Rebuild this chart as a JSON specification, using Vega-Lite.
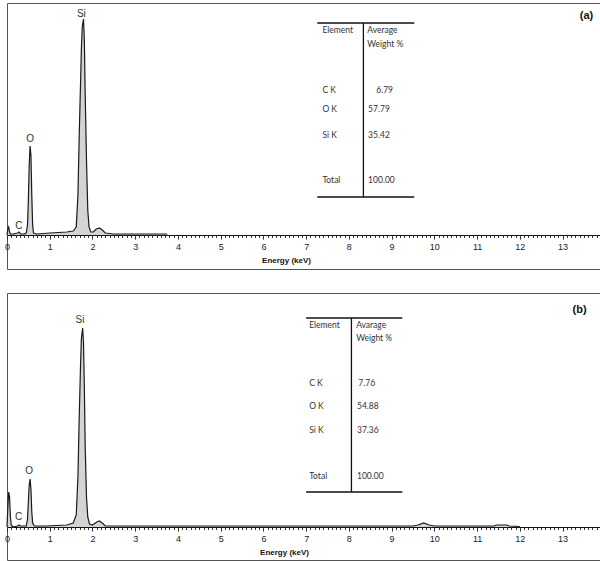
{
  "$schema": "https://vega.github.io/schema/vega-lite/v6.json",
  "padding": {"left": 3, "top": 2, "right": 0, "bottom": 0},
  "background": "white",
  "config": {
    "view": {"stroke": "#555", "strokeWidth": 1},
    "text": {"font": "Lato", "fontSize": 8.5, "color": "#333"}
  },
  "datasets": {
    "specA": [
      {"e": 0.0, "c": 0}, {"e": 0.02, "c": 6}, {"e": 0.04, "c": 8}, {"e": 0.06, "c": 3}, {"e": 0.08, "c": 1},
      {"e": 0.15, "c": 1}, {"e": 0.25, "c": 2}, {"e": 0.28, "c": 3}, {"e": 0.32, "c": 1}, {"e": 0.4, "c": 1},
      {"e": 0.45, "c": 2}, {"e": 0.48, "c": 10}, {"e": 0.5, "c": 35}, {"e": 0.52, "c": 70}, {"e": 0.54, "c": 89},
      {"e": 0.56, "c": 80}, {"e": 0.58, "c": 40}, {"e": 0.6, "c": 10}, {"e": 0.62, "c": 2}, {"e": 0.7, "c": 1},
      {"e": 1.0, "c": 2}, {"e": 1.4, "c": 3}, {"e": 1.55, "c": 4}, {"e": 1.62, "c": 8}, {"e": 1.66, "c": 40},
      {"e": 1.69, "c": 100}, {"e": 1.72, "c": 150}, {"e": 1.74, "c": 185}, {"e": 1.76, "c": 208}, {"e": 1.79, "c": 216},
      {"e": 1.81, "c": 195}, {"e": 1.83, "c": 140}, {"e": 1.86, "c": 75}, {"e": 1.89, "c": 25}, {"e": 1.92, "c": 8},
      {"e": 1.96, "c": 3}, {"e": 2.02, "c": 3}, {"e": 2.09, "c": 6}, {"e": 2.16, "c": 7}, {"e": 2.23, "c": 5},
      {"e": 2.3, "c": 2}, {"e": 2.5, "c": 1}, {"e": 3.0, "c": 1}, {"e": 3.75, "c": 1}
    ],
    "specB": [
      {"e": 0.0, "c": 0}, {"e": 0.02, "c": 20}, {"e": 0.04, "c": 35}, {"e": 0.06, "c": 30}, {"e": 0.08, "c": 10},
      {"e": 0.1, "c": 2}, {"e": 0.14, "c": 0}, {"e": 0.25, "c": 1}, {"e": 0.28, "c": 2}, {"e": 0.32, "c": 1},
      {"e": 0.45, "c": 1}, {"e": 0.48, "c": 8}, {"e": 0.5, "c": 25}, {"e": 0.52, "c": 42}, {"e": 0.54, "c": 48},
      {"e": 0.56, "c": 38}, {"e": 0.58, "c": 15}, {"e": 0.6, "c": 4}, {"e": 0.64, "c": 1}, {"e": 0.9, "c": 1},
      {"e": 1.4, "c": 2}, {"e": 1.55, "c": 4}, {"e": 1.62, "c": 12}, {"e": 1.66, "c": 50}, {"e": 1.69, "c": 110},
      {"e": 1.72, "c": 160}, {"e": 1.74, "c": 188}, {"e": 1.77, "c": 199}, {"e": 1.79, "c": 185}, {"e": 1.81, "c": 140},
      {"e": 1.83, "c": 80}, {"e": 1.86, "c": 30}, {"e": 1.89, "c": 10}, {"e": 1.93, "c": 3}, {"e": 2.0, "c": 2},
      {"e": 2.1, "c": 5}, {"e": 2.16, "c": 6}, {"e": 2.23, "c": 4}, {"e": 2.3, "c": 1}, {"e": 3.0, "c": 1},
      {"e": 5.0, "c": 1}, {"e": 7.0, "c": 1}, {"e": 9.0, "c": 1}, {"e": 9.5, "c": 1}, {"e": 9.62, "c": 2},
      {"e": 9.75, "c": 4}, {"e": 9.88, "c": 2}, {"e": 10.0, "c": 1}, {"e": 11.4, "c": 1}, {"e": 11.45, "c": 2},
      {"e": 11.7, "c": 2}, {"e": 11.75, "c": 1}, {"e": 12.0, "c": 0.5}
    ],
    "peaksA": [
      {"e": 1.74, "c": 221, "t": "Si"}, {"e": 0.54, "c": 96, "t": "O"}, {"e": 0.28, "c": 9, "t": "C"}
    ],
    "peaksB": [
      {"e": 1.71, "c": 207, "t": "Si"}, {"e": 0.52, "c": 56, "t": "O"}, {"e": 0.27, "c": 10, "t": "C"}
    ],
    "tabRulesA": [
      {"e": 7.26, "e2": 9.53, "c": 212, "c2": 212},
      {"e": 7.26, "e2": 9.53, "c": 38, "c2": 38},
      {"e": 8.34, "e2": 8.34, "c": 212, "c2": 38}
    ],
    "tabRulesB": [
      {"e": 7.0, "e2": 9.25, "c": 209, "c2": 209},
      {"e": 7.0, "e2": 9.25, "c": 35, "c2": 35},
      {"e": 8.06, "e2": 8.06, "c": 209, "c2": 35}
    ],
    "tabTextA": [
      {"e": 7.38, "c": 205, "t": "Element"},
      {"e": 8.43, "c": 205, "t": "Average"},
      {"e": 8.43, "c": 191, "t": "Weight %"},
      {"e": 7.38, "c": 145, "t": "C K"},
      {"e": 8.64, "c": 145, "t": "6.79"},
      {"e": 7.38, "c": 126, "t": "O K"},
      {"e": 8.45, "c": 126, "t": "57.79"},
      {"e": 7.38, "c": 100, "t": "Si K"},
      {"e": 8.45, "c": 100, "t": "35.42"},
      {"e": 7.38, "c": 55, "t": "Total"},
      {"e": 8.45, "c": 55, "t": "100.00"}
    ],
    "tabTextB": [
      {"e": 7.07, "c": 202, "t": "Element"},
      {"e": 8.17, "c": 202, "t": "Avarage"},
      {"e": 8.17, "c": 189, "t": "Weight %"},
      {"e": 7.07, "c": 144, "t": "C K"},
      {"e": 8.22, "c": 144, "t": "7.76"},
      {"e": 7.07, "c": 121, "t": "O K"},
      {"e": 8.19, "c": 121, "t": "54.88"},
      {"e": 7.07, "c": 97, "t": "Si K"},
      {"e": 8.19, "c": 97, "t": "37.36"},
      {"e": 7.07, "c": 51, "t": "Total"},
      {"e": 8.19, "c": 51, "t": "100.00"}
    ],
    "panelA": [{"e": 13.56, "c": 219, "t": "(a)"}],
    "panelB": [{"e": 13.4, "c": 217, "t": "(b)"}]
  },
  "vconcat": [
    {
      "width": 594,
      "height": 266,
      "resolve": {"axis": {"x": "independent"}},
      "encoding": {
        "x": {"field": "e", "type": "quantitative", "scale": {"domain": [0, 13.9], "nice": false}, "axis": null},
        "y": {"field": "c", "type": "quantitative", "scale": {"domain": [-34, 232], "nice": false}, "axis": null}
      },
      "layer": [
        {
          "data": {"name": "specA"},
          "mark": {"type": "area", "color": "#d4d4d4"},
          "encoding": {
            "x": {"field": "e", "type": "quantitative", "scale": {"domain": [0, 13.9], "nice": false}, "axis": {"orient": "bottom", "offset": -34, "values": [0,1,2,3,4,5,6,7,8,9,10,11,12,13], "tickSize": 4, "tickColor": "#222", "domainColor": "#111", "labelFont": "Liberation Sans", "labelFontSize": 9, "labelColor": "#222", "labelPadding": 3, "labelFlush": false, "grid": false, "title": "Energy (keV)", "titleFont": "Liberation Sans", "titleFontSize": 8, "titleFontWeight": "bold", "titleColor": "#111", "titlePadding": 5, "titleX": 279}},
            "y": {"field": "c", "type": "quantitative"},
            "y2": {"datum": 0}
          }
        },
        {
          "data": {"name": "specA"},
          "mark": {"type": "line", "color": "#1a1a1a", "strokeWidth": 1.2},
          "encoding": {
            "x": {"field": "e", "type": "quantitative", "scale": {"domain": [0, 13.9], "nice": false}, "axis": {"orient": "bottom", "offset": -34, "tickCount": 139, "tickSize": 2.5, "tickColor": "#333", "labels": false, "domain": false, "grid": false, "title": null}}
          }
        },
        {
          "data": {"name": "peaksA"},
          "mark": {"type": "text", "font": "Liberation Sans", "fontSize": 10, "color": "#333", "baseline": "middle", "align": "center"},
          "encoding": {"text": {"field": "t"}}
        },
        {
          "data": {"name": "tabRulesA"},
          "mark": {"type": "rule", "color": "#111", "strokeWidth": 1.3},
          "encoding": {"x2": {"field": "e2"}, "y2": {"field": "c2"}}
        },
        {
          "data": {"name": "tabTextA"},
          "mark": {"type": "text", "align": "left", "baseline": "middle"},
          "encoding": {"text": {"field": "t"}}
        },
        {
          "data": {"name": "panelA"},
          "mark": {"type": "text", "font": "Liberation Sans", "fontSize": 11, "fontWeight": "bold", "color": "#111", "align": "center", "baseline": "middle"},
          "encoding": {"text": {"field": "t"}}
        }
      ]
    },
    {
      "width": 594,
      "height": 267,
      "resolve": {"axis": {"x": "independent"}},
      "encoding": {
        "x": {"field": "e", "type": "quantitative", "scale": {"domain": [0, 13.9], "nice": false}, "axis": null},
        "y": {"field": "c", "type": "quantitative", "scale": {"domain": [-33, 234], "nice": false}, "axis": null}
      },
      "layer": [
        {
          "data": {"name": "specB"},
          "mark": {"type": "area", "color": "#d4d4d4"},
          "encoding": {
            "x": {"field": "e", "type": "quantitative", "scale": {"domain": [0, 13.9], "nice": false}, "axis": {"orient": "bottom", "offset": -33, "values": [0,1,2,3,4,5,6,7,8,9,10,11,12,13], "tickSize": 4, "tickColor": "#222", "domainColor": "#111", "labelFont": "Liberation Sans", "labelFontSize": 9, "labelColor": "#222", "labelPadding": 3, "labelFlush": false, "grid": false, "title": "Energy (keV)", "titleFont": "Liberation Sans", "titleFontSize": 8, "titleFontWeight": "bold", "titleColor": "#111", "titlePadding": 5, "titleX": 277}},
            "y": {"field": "c", "type": "quantitative"},
            "y2": {"datum": 0}
          }
        },
        {
          "data": {"name": "specB"},
          "mark": {"type": "line", "color": "#1a1a1a", "strokeWidth": 1.2},
          "encoding": {
            "x": {"field": "e", "type": "quantitative", "scale": {"domain": [0, 13.9], "nice": false}, "axis": {"orient": "bottom", "offset": -33, "tickCount": 139, "tickSize": 2.5, "tickColor": "#333", "labels": false, "domain": false, "grid": false, "title": null}}
          }
        },
        {
          "data": {"name": "peaksB"},
          "mark": {"type": "text", "font": "Liberation Sans", "fontSize": 10, "color": "#333", "baseline": "middle", "align": "center"},
          "encoding": {"text": {"field": "t"}}
        },
        {
          "data": {"name": "tabRulesB"},
          "mark": {"type": "rule", "color": "#111", "strokeWidth": 1.3},
          "encoding": {"x2": {"field": "e2"}, "y2": {"field": "c2"}}
        },
        {
          "data": {"name": "tabTextB"},
          "mark": {"type": "text", "align": "left", "baseline": "middle"},
          "encoding": {"text": {"field": "t"}}
        },
        {
          "data": {"name": "panelB"},
          "mark": {"type": "text", "font": "Liberation Sans", "fontSize": 11, "fontWeight": "bold", "color": "#111", "align": "center", "baseline": "middle"},
          "encoding": {"text": {"field": "t"}}
        }
      ]
    }
  ],
  "spacing": 22
}
